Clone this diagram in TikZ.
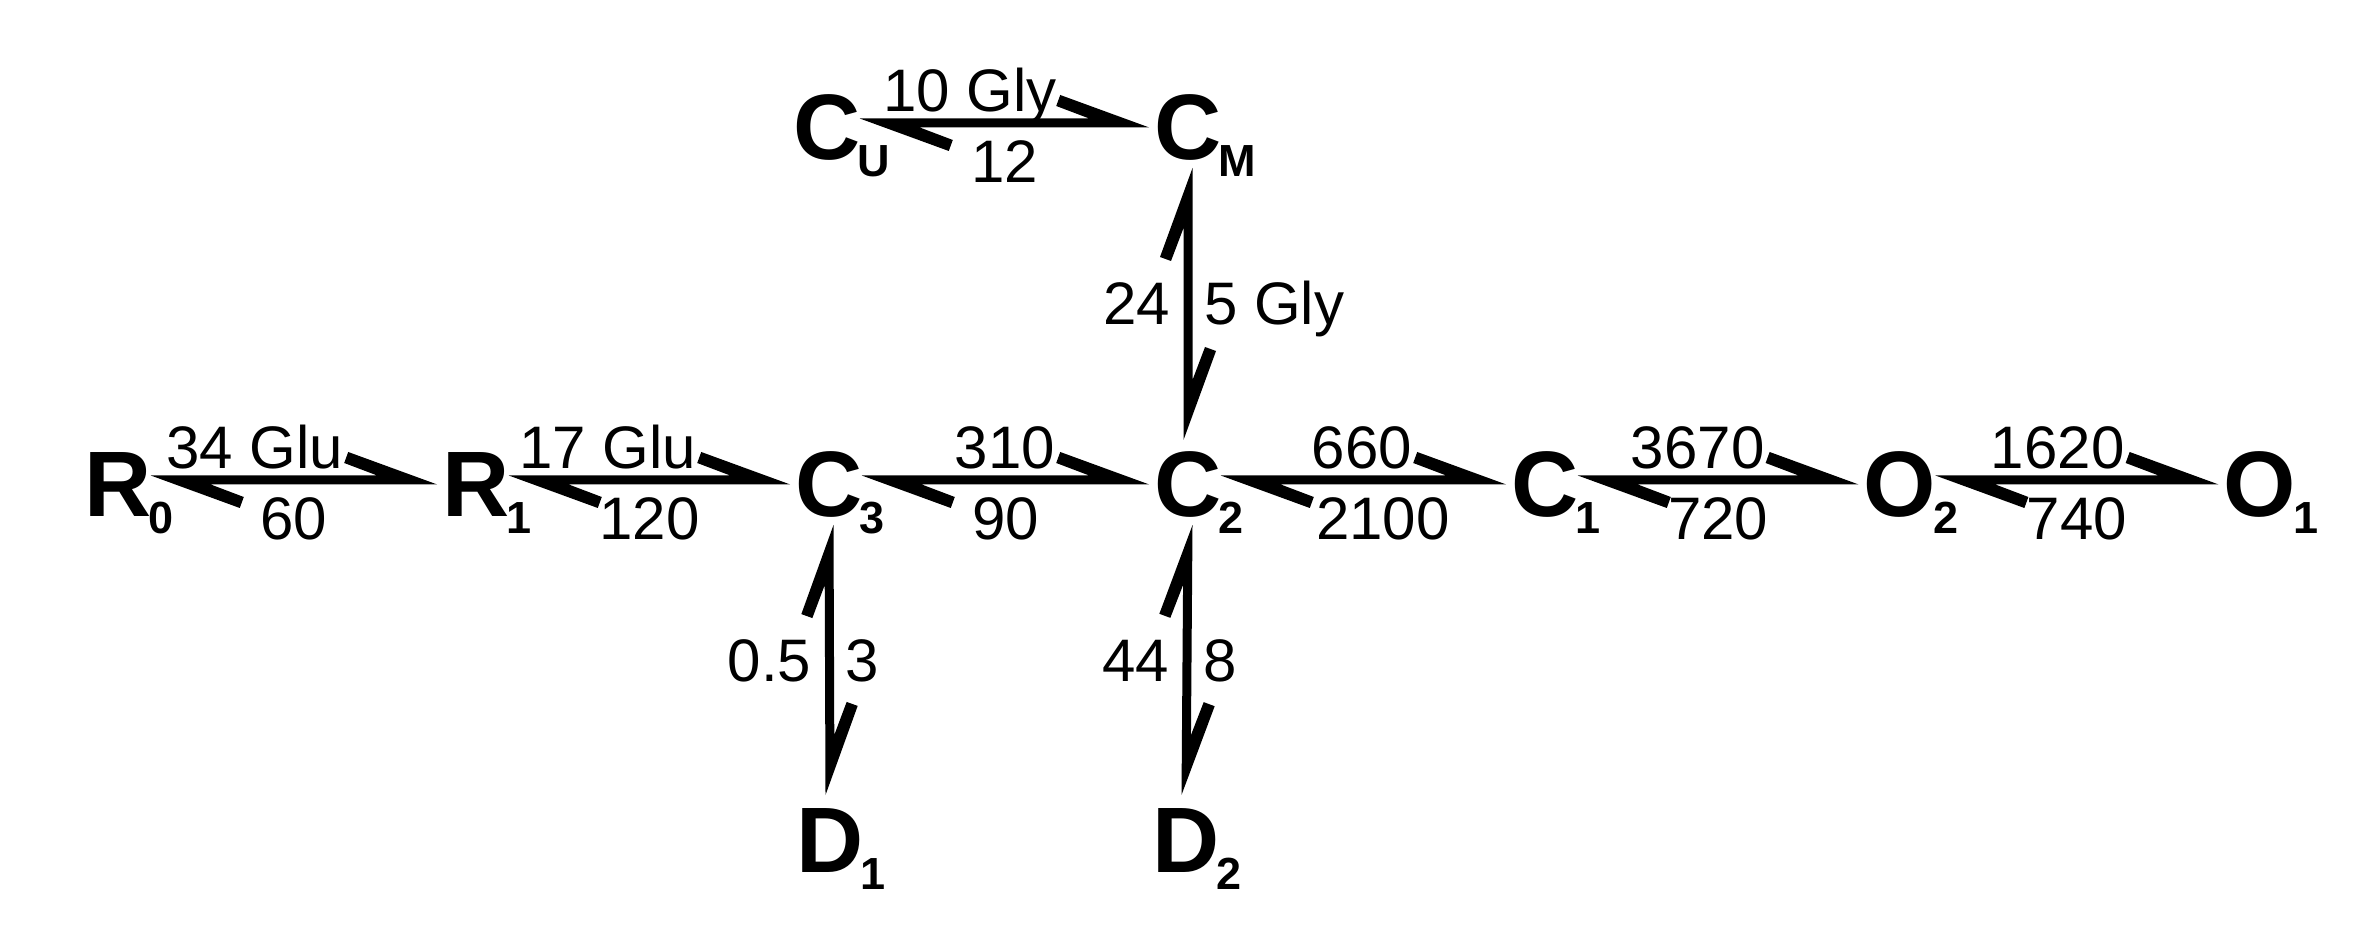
\documentclass[tikz,border=0pt]{standalone}
\usepackage{fontspec}
\setmainfont{Liberation Sans}
\usetikzlibrary{calc}
\newcommand\eqarr[2]{%
 \fill ($(#2)!4.5pt!90:(#1)$) -- ($(#2)!89pt!(#1)!28pt!-90:(#1)$) -- ($(#2)!93pt!(#1)!17pt!-90:(#1)$) -- ($(#2)!60pt!(#1)!4.5pt!-90:(#1)$) --
       ($(#1)!4.5pt!90:(#2)$) -- ($(#1)!89pt!(#2)!28pt!-90:(#2)$) -- ($(#1)!93pt!(#2)!17pt!-90:(#2)$) -- ($(#1)!60pt!(#2)!4.5pt!-90:(#2)$) -- cycle;}
\newcommand\sbs[1]{\rlap{\kern-3pt\raisebox{-17pt}{\fontsize{45}{45}\selectfont\bfseries #1}}}
\tikzset{
 lett/.style={font=\fontsize{93}{93}\selectfont\bfseries, inner sep=0pt, anchor=base},
 lab/.style={font=\fontsize{60}{60}\selectfont, inner sep=0pt}
}
\begin{document}
\begin{tikzpicture}[x=1pt,y=1pt]
\fill[white] (0,0) rectangle (2365,935);
\useasboundingbox (0,0) rectangle (2365,935);
% species
\node[lett] (R0) at (118,418) {R\sbs{0}};
\node[lett] (R1) at (476,418) {R\sbs{1}};
\node[lett] (C3) at (829,418) {C\sbs{3}};
\node[lett] (C2) at (1188,418) {C\sbs{2}};
\node[lett] (C1) at (1545,418) {C\sbs{1}};
\node[lett] (O2) at (1900,418) {O\sbs{2}};
\node[lett] (O1) at (2260,418) {O\sbs{1}};
\node[lett] (CU) at (827,775) {C\sbs{U}};
\node[lett] (CM) at (1188,775) {C\sbs{M}};
\node[lett] (D1) at (830,63) {D\sbs{1}};
\node[lett] (D2) at (1186,63) {D\sbs{2}};
% horizontal equilibria
\coordinate (s1) at ($(R0.base east)+(-1,37)$);
\coordinate (e1) at ($(R1.base west)+(-5,37)$);
\eqarr{s1}{e1}
\node[lab,anchor=base east] (t1) at ($(e1)+(-94,11)$) {34 Glu};
\node[lab,anchor=base] (b1) at ($(s1)!0.5!(e1)+(0,-60)$) {60};

\coordinate (s2) at ($(R1.base east)+(-1,37)$);
\coordinate (e2) at ($(C3.base west)+(-5,37)$);
\eqarr{s2}{e2}
\node[lab,anchor=base east] (t2) at ($(e2)+(-94,11)$) {17 Glu};
\node[lab,anchor=base] (b2) at ($(s2)!0.5!(e2)+(0,-60)$) {120};

\coordinate (s3) at ($(C3.base east)+(-1,37)$);
\coordinate (e3) at ($(C2.base west)+(-5,37)$);
\eqarr{s3}{e3}
\node[lab,anchor=base east] (t3) at ($(e3)+(-94,11)$) {310};
\node[lab,anchor=base] (b3) at ($(s3)!0.5!(e3)+(0,-60)$) {90};

\coordinate (s4) at ($(C2.base east)+(-1,37)$);
\coordinate (e4) at ($(C1.base west)+(-5,37)$);
\eqarr{s4}{e4}
\node[lab,anchor=base east] (t4) at ($(e4)+(-94,11)$) {660};
\node[lab,anchor=base west] (b4) at ($(s4)+(95,-60)$) {2100};

\coordinate (s5) at ($(C1.base east)+(-1,37)$);
\coordinate (e5) at ($(O2.base west)+(-5,37)$);
\eqarr{s5}{e5}
\node[lab,anchor=base east] (t5) at ($(e5)+(-94,11)$) {3670};
\node[lab,anchor=base] (b5) at ($(s5)!0.5!(e5)+(0,-60)$) {720};

\coordinate (s6) at ($(O2.base east)+(-1,37)$);
\coordinate (e6) at ($(O1.base west)+(-5,37)$);
\eqarr{s6}{e6}
\node[lab,anchor=base east] (t6) at ($(e6)+(-94,11)$) {1620};
\node[lab,anchor=base] (b6) at ($(s6)!0.5!(e6)+(0,-60)$) {740};

\coordinate (s7) at ($(CU.base east)+(-1,37)$);
\coordinate (e7) at ($(CM.base west)+(-5,37)$);
\eqarr{s7}{e7}
\node[lab,anchor=base east] (t7) at ($(e7)+(-92,11)$) {10 Gly};
\node[lab,anchor=base] (b7) at ($(s7)!0.5!(e7)+(0,-60)$) {12};
% vertical equilibria
\coordinate (s8) at ($(C2.base)+(0,77)$);
\coordinate (e8) at ($(CM.base)+(0,-8)$);
\eqarr{s8}{e8}
\node[lab,anchor=base east] (l8) at ($(s8)!0.5!(e8)+(-18,-21)$) {24};
\node[lab,anchor=base west] (r8) at ($(s8)!0.5!(e8)+(16,-21)$) {5 Gly};

\coordinate (s9) at ($(D1.base)+(0,77)$);
\coordinate (e9) at ($(C3.base)+(0,-8)$);
\eqarr{s9}{e9}
\node[lab,anchor=base east] (l9) at ($(s9)!0.5!(e9)+(-18,-21)$) {0.5};
\node[lab,anchor=base west] (r9) at ($(s9)!0.5!(e9)+(16,-21)$) {3};

\coordinate (s10) at ($(D2.base)+(0,77)$);
\coordinate (e10) at ($(C2.base)+(0,-8)$);
\eqarr{s10}{e10}
\node[lab,anchor=base east] (l10) at ($(s10)!0.5!(e10)+(-18,-21)$) {44};
\node[lab,anchor=base west] (r10) at ($(s10)!0.5!(e10)+(16,-21)$) {8};
\end{tikzpicture}
\end{document}
